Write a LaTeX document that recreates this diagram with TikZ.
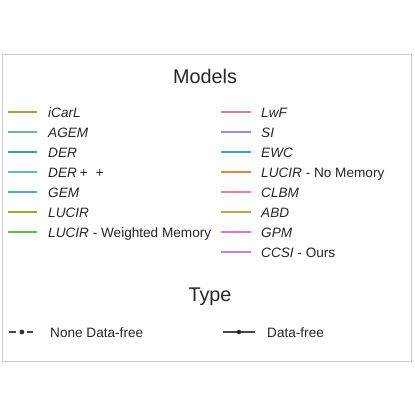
\documentclass[tikz,border=0pt]{standalone}
\usepackage{fontspec}
\setmainfont{Liberation Sans}
\definecolor{cicarl}{HTML}{B0A040}
\definecolor{cagem}{HTML}{66C08A}
\definecolor{cder}{HTML}{3EA88C}
\definecolor{cderpp}{HTML}{62BCBC}
\definecolor{cgem}{HTML}{55A0E8}
\definecolor{clucir}{HTML}{98A838}
\definecolor{clucirwm}{HTML}{6AB84A}
\definecolor{clwf}{HTML}{F07A8A}
\definecolor{csi}{HTML}{9090F0}
\definecolor{cewc}{HTML}{3CA6C0}
\definecolor{clucirnm}{HTML}{E8804A}
\definecolor{cclbm}{HTML}{EC7AB8}
\definecolor{cabd}{HTML}{C8A050}
\definecolor{cgpm}{HTML}{E070E0}
\definecolor{cccsi}{HTML}{C080F0}
\definecolor{txt}{HTML}{262626}
\begin{document}
\begin{tikzpicture}[x=1pt, y=-1pt, font=\fontsize{13.6}{16}\selectfont,
		lbl/.style={anchor=base west, inner sep=0pt, text=txt},
		ttl/.style={font=\fontsize{19.8}{23}\selectfont, text=txt, inner sep=0pt},
		swatch/.style={line width=1.6pt}]
		\useasboundingbox (0,0) rectangle (415,416);
		% rahmen
		\node[draw=black!20, line width=0.8pt, minimum width=409pt, minimum height=307pt,
			anchor=north west, inner sep=0pt] (frame) at (2,54) {};
		\node[ttl] (models) at (205,76) {Models};
		% linke spalte
		\foreach \n/\y/\col/\val in {icarl/112/cicarl/\textit{iCarL}, agem/132/cagem/\textit{AGEM},
			der/152/cder/\textit{DER}, derpp/172/cderpp/{\textit{DER}\hspace{3pt}+\hspace{8pt}+},
			gem/192/cgem/\textit{GEM}, lucir/212/clucir/\textit{LUCIR},
			lucirwm/232/clucirwm/{\textit{LUCIR} - Weighted Memory}}{
			\draw[swatch, \col] (8,\y) -- (37,\y);
			\node[lbl] (\n) at (48,\y+5) {\val};
		}
		% rechte spalte
		\foreach \n/\y/\col/\val in {lwf/112/clwf/\textit{LwF}, si/132/csi/\textit{SI},
			ewc/152/cewc/\textit{EWC}, lucirnm/172/clucirnm/{\textit{LUCIR} - No Memory},
			clbm/192/cclbm/\textit{CLBM}, abd/212/cabd/\textit{ABD},
			gpm/232/cgpm/\textit{GPM}, ccsi/252/cccsi/{\textit{CCSI} - Ours}}{
			\draw[swatch, \col] (221,\y) -- (251,\y);
			\node[lbl] (\n) at (261,\y+5) {\val};
		}
		% typ
		\node[ttl] (type) at (210,297) {Type};
		\draw[line width=1.8pt, txt!85] (9,332) -- (16,332) (27,332) -- (33,332);
		\fill[txt!70] (22,332) circle (2.3pt);
		\draw[txt, line width=0.7pt] (19.7,332) -- (24.3,332) (22,329.7) -- (22,334.3)
			(20.4,330.4) -- (23.6,333.6) (20.4,333.6) -- (23.6,330.4);
		\node[lbl] (ndf) at (50,337) {None Data-free};
		\draw[line width=1.8pt, txt!85] (223,332) -- (255,332);
		\fill[txt] (239,332) circle (2.2pt);
		\node[lbl] (df) at (267,337) {Data-free};
	\end{tikzpicture}
\end{document}
